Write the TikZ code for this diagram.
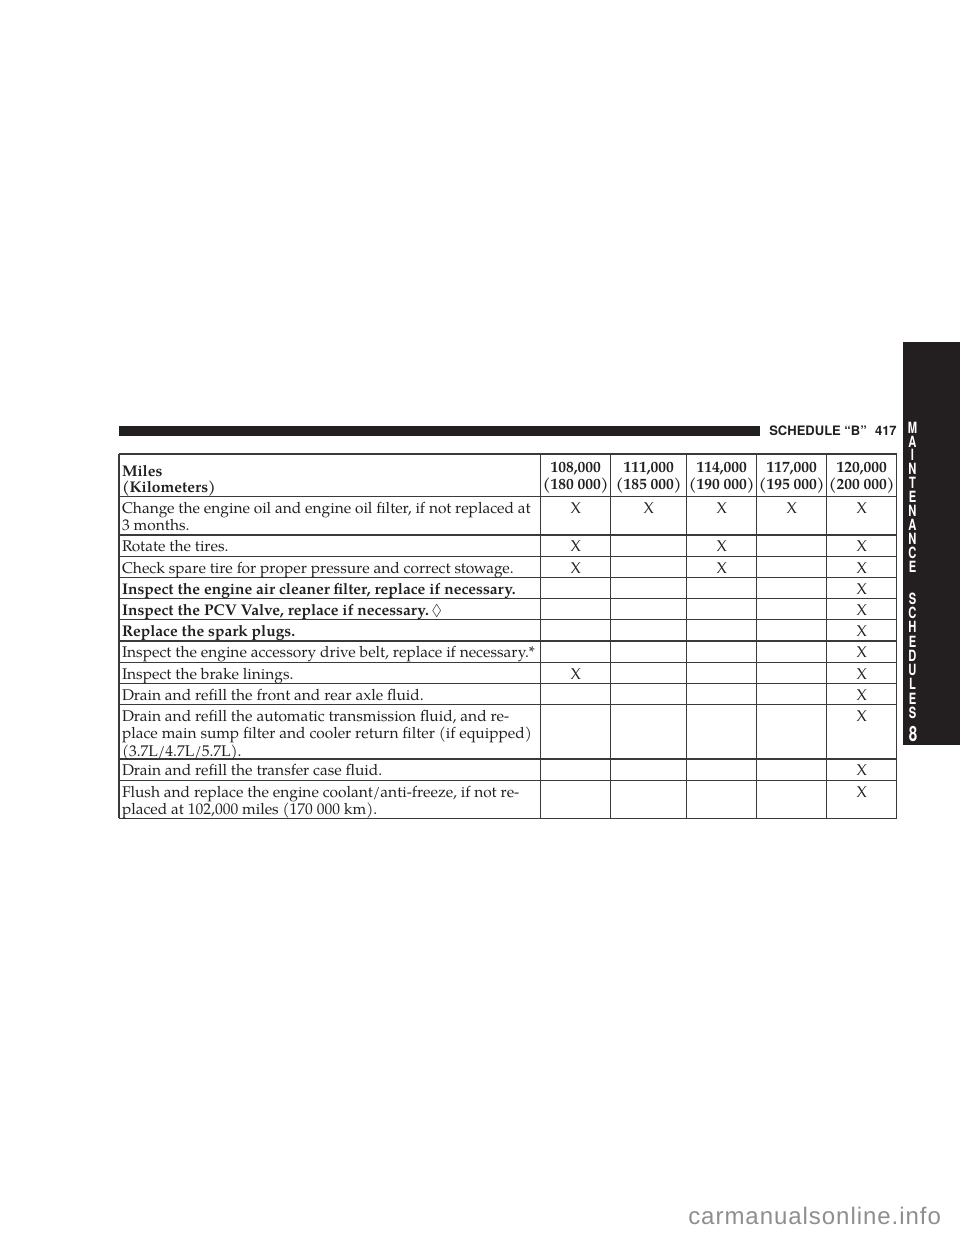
\documentclass[tikz,border=0pt]{standalone}
\usepackage{amssymb}
\usepackage{fontspec}
\setmainfont{TeX Gyre Pagella}
\newfontfamily\hsans{TeX Gyre Heros}
\newfontfamily\hcond[FakeStretch=0.72]{TeX Gyre Heros}
\newfontfamily\wmfont[LetterSpace=4]{Liberation Sans}
\definecolor{ink}{HTML}{231F20}
\definecolor{rule}{HTML}{3A3A3A}
\definecolor{wmgray}{HTML}{8E8E8E}
\begin{document}
\begin{tikzpicture}[x=1pt,y=-1pt,
  every node/.style={inner sep=0pt, outer sep=0pt, text=ink},
  rowtxt/.style={anchor=base west, font=\fontsize{15.5}{17.5}\selectfont},
  rowbold/.style={anchor=base west, font=\fontsize{15.5}{17.5}\selectfont\bfseries},
  xmark/.style={anchor=base, font=\fontsize{15.5}{17.5}\selectfont},
  hnum/.style={anchor=base, font=\fontsize{15.5}{17.5}\selectfont\bfseries},
  gridline/.style={draw=rule, line width=1.1pt},
  tabletter/.style={anchor=base, text=white, font=\hcond\bfseries\fontsize{15.5}{15.5}\selectfont},
  headtxt/.style={font=\hsans\bfseries\fontsize{13}{13}\selectfont},
]
\useasboundingbox (0,0) rectangle (960,1242);

% top bar and header
\fill[ink] (119,425.5) rectangle (760,435.5);
\node[headtxt, anchor=base west] (sched) at (769.3,435.5) {SCHEDULE “B”};
\node[headtxt, anchor=base east] (pagenum) at (896.7,435.5) {417};

% side tab
\fill[ink] (903,341.7) rectangle (960,745);
\foreach \l [count=\i] in {M,A,I,N,T,E,N,A,N,C,E}
  \node[tabletter] (ta\i) at (912.5,{433.1+(\i-1)*13.9}) {\l};
\foreach \l [count=\i] in {S,C,H,E,D,U,L,E,S}
  \node[tabletter] (tb\i) at (912.5,{604.1+(\i-1)*14.3}) {\l};
\node[tabletter, font=\hcond\bfseries\fontsize{21}{21}\selectfont] (tabnum) at (913,741.7) {8};

% table grid
\foreach \yy in {454,496.5,535,556.2,577.4,598.6,619.8,641,662.2,683.4,704.6,759,780.2,818.3}
  \draw[gridline] (119,\yy) -- (896.7,\yy);
\foreach \xx in {119,540.7,610.7,686.7,756.7,826.7,896.7}
  \draw[gridline] (\xx,454) -- (\xx,818.3);

% column centre coordinates
\coordinate (col1) at (575.7,0);
\coordinate (col2) at (648.7,0);
\coordinate (col3) at (721.7,0);
\coordinate (col4) at (791.7,0);
\coordinate (col5) at (861.7,0);

% header
\node[rowbold] (miles) at (122,476.5) {Miles};
\node[rowbold] (km) at (122,492.8) {(Kilometers)};
\foreach \c/\m/\k in {1/{108,000}/{180 000},2/{111,000}/{185 000},3/{114,000}/{190 000},4/{117,000}/{195 000},5/{120,000}/{200 000}}{
  \node[hnum] (m\c) at (col\c |- 0,472.5) {\m};
  \node[hnum] (k\c) at (col\c |- 0,489.3) {(\k)};
}

% rows text
\node[rowtxt] (r1a) at (122,513.3) {Change the engine oil and engine oil filter, if not replaced at};
\node[rowtxt] (r1b) at (122,530.8) {3 months.};
\node[rowtxt] (r2) at (122,551.8) {Rotate the tires.};
\node[rowtxt] (r3) at (122,573) {Check spare tire for proper pressure and correct stowage.};
\node[rowbold] (r4) at (122,594.2) {Inspect the engine air cleaner filter, replace if necessary.};
\node[rowbold] (r5) at (122,615.4) {Inspect the PCV Valve, replace if necessary.\,{\mdseries$\lozenge$}};
\node[rowbold] (r6) at (122,636.6) {Replace the spark plugs.};
\node[rowtxt] (r7) at (122,657.8) {Inspect the engine accessory drive belt, replace if necessary.*};
\node[rowtxt] (r8) at (122,679) {Inspect the brake linings.};
\node[rowtxt] (r9) at (122,700.2) {Drain and refill the front and rear axle fluid.};
\node[rowtxt] (r10a) at (122,721.4) {Drain and refill the automatic transmission fluid, and re-};
\node[rowtxt] (r10b) at (122,738.9) {place main sump filter and cooler return filter (if equipped)};
\node[rowtxt] (r10c) at (122,756.4) {(3.7L/4.7L/5.7L).};
\node[rowtxt] (r11) at (122,775.8) {Drain and refill the transfer case fluid.};
\node[rowtxt] (r12a) at (122,797) {Flush and replace the engine coolant/anti-freeze, if not re-};
\node[rowtxt] (r12b) at (122,814.5) {placed at 102,000 miles (170 000 km).};

% X marks
\foreach \rr/\yy/\cl in {1/513.3/{1,2,3,4,5},2/551.8/{1,3,5},3/573/{1,3,5},4/594.2/{5},5/615.4/{5},6/636.6/{5},7/657.8/{5},8/679/{1,5},9/700.2/{5},10/721.4/{5},11/775.8/{5},12/797/{5}}{
  \foreach \c in \cl
    \node[xmark] (x\rr-\c) at (col\c |- 0,\yy) {X};
}

% watermark
\node[anchor=base west, text=wmgray, font=\wmfont\fontsize{24}{24}\selectfont] (wm) at (688.3,1224.3) {carmanualsonline.info};
\end{tikzpicture}
\end{document}
